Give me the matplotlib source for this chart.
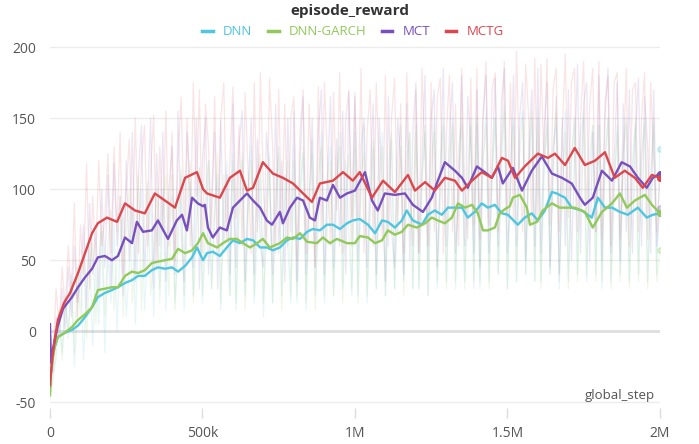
import numpy as np
import matplotlib
matplotlib.use("Agg")
import matplotlib.pyplot as plt

plt.rcParams['font.family'] = ['Open Sans', 'DejaVu Sans']

names = ["DNN", "DNN-GARCH", "MCT", "MCTG"]
colors = ["#4ec6df", "#91c95a", "#7750bd", "#dc464d"]

# ---- smoothed series (x in thousands of steps) ----
dnn_x = [0,3,10,20,26,49,72,92,115,138,157,180,203,223,246,269,289,311,334,354,377,400,420,443,466,482,502,515,534,557,580,600,623,646,666,689,711,731,754,777,797,820,843,862,885,908,928,951,974,993,1016,1043,1066,1089,1108,1131,1154,1170,1190,1220,1239,1262,1285,1305,1328,1351,1370,1393,1416,1436,1459,1482,1502,1534,1557,1580,1600,1623,1646,1662,1689,1711,1744,1777,1797,1820,1843,1869,1895,1928,1957,1977,2000]
dnn_y = [-40,-30,-15,-8,-4,-1,1,4,10,17,24,27,29,31,34,36,39,39,43,45,44,45,42,46,52,59,50,55,56,53,59,64,62,65,64,59,59,57,59,64,66,65,70,72,71,75,75,72,76,78,79,75,69,78,77,73,78,85,78,75,82,85,82,87,87,87,80,84,90,87,89,83,82,75,80,83,78,85,98,97,94,87,85,80,94,87,87,84,82,87,80,82,83]

garch_x = [0,3,10,16,26,49,72,92,115,138,157,180,203,223,246,269,289,311,334,354,377,400,420,443,466,485,502,518,548,567,590,613,633,656,679,698,721,754,777,797,820,843,875,895,918,941,974,1000,1016,1043,1066,1089,1108,1131,1154,1174,1203,1230,1252,1272,1295,1318,1338,1361,1384,1403,1420,1436,1459,1475,1492,1508,1518,1541,1564,1574,1597,1616,1646,1672,1698,1721,1754,1780,1810,1843,1869,1892,1918,1951,1974,2000]
garch_y = [-45,-30,-18,-10,-4,-1,3,8,12,17,29,30,31,31,39,42,41,43,48,49,50,51,58,55,57,62,69,62,59,62,65,65,62,59,62,65,59,62,66,65,69,63,62,66,62,65,62,62,67,66,62,64,71,68,70,75,73,76,80,78,76,80,90,87,89,83,71,71,73,83,86,88,94,96,87,75,77,85,90,87,87,87,84,73,84,90,97,87,92,96,89,83]

mct_x = [0,3,10,20,26,43,72,92,115,138,157,180,203,223,246,269,285,305,334,354,387,416,433,449,466,485,502,508,518,534,557,580,600,623,646,666,689,711,728,754,764,787,810,830,852,869,885,908,928,951,974,1000,1033,1056,1075,1098,1131,1164,1190,1223,1252,1272,1295,1328,1351,1370,1400,1426,1449,1469,1485,1518,1548,1580,1613,1646,1679,1711,1738,1754,1780,1810,1843,1875,1902,1928,1957,1977,2000]
mct_y = [5,-22,-12,-2,4,16,24,31,38,44,52,53,50,53,66,62,77,70,71,78,65,78,82,71,94,90,88,89,73,66,73,71,87,92,97,92,87,78,75,84,76,87,94,92,80,78,94,92,103,94,97,99,112,92,85,97,96,97,89,84,94,106,119,113,108,101,116,112,108,116,104,115,99,113,123,111,108,104,94,89,94,113,106,119,116,108,101,108,111]

mctg_x = [0,7,16,26,46,66,92,115,138,157,187,220,246,279,311,344,377,410,443,482,502,515,557,590,623,646,666,698,731,764,797,830,859,885,928,961,993,1016,1056,1092,1131,1174,1197,1230,1262,1295,1328,1351,1384,1416,1449,1482,1502,1525,1557,1600,1633,1656,1689,1721,1754,1787,1820,1852,1885,1918,1944,1974,2000]
mctg_y = [-38,-20,-5,8,20,27,41,55,69,76,80,77,90,85,83,97,92,87,108,112,100,97,94,108,113,99,101,119,111,108,104,97,91,104,106,112,106,112,94,106,98,110,99,105,99,108,106,99,106,112,108,122,120,108,116,125,122,125,117,129,117,120,126,108,113,108,101,110,108]

# ---- raw (unsmoothed) series, one value every 10k steps ----
raw_step_k = 10
dnn_raw = [-45,-30,-20,10,-15,25,-5,40,-25,15,50,-20,30,60,-10,45,5,70,-15,55,
           20,75,0,60,85,10,45,90,5,70,100,15,55,95,10,80,30,100,15,85,
           95,20,60,110,15,75,105,25,90,115,20,65,120,30,85,110,15,95,120,25,
           125,15,80,120,25,100,130,20,70,115,10,95,125,20,85,130,25,110,60,20,
           130,20,90,125,15,100,135,25,75,140,20,110,130,25,95,140,30,120,70,25,
           140,25,100,145,20,85,130,30,110,140,25,90,135,30,120,145,35,100,140,30,
           145,30,110,140,25,95,150,30,120,145,35,100,150,30,130,145,35,90,150,30,
           145,30,120,155,35,110,150,40,100,160,30,125,150,35,140,155,40,115,150,35,
           155,35,110,150,40,130,145,30,100,155,35,120,150,40,140,150,35,110,145,40,
           145,30,120,150,35,100,145,40,130,150,35,115,145,40,125,150,35,110,145,40,
           128]
garch_raw = [-48,-35,-10,15,-20,20,0,35,-15,45,10,55,-5,40,65,5,50,75,10,60,
             85,15,50,95,10,70,100,20,60,110,15,80,105,25,55,100,20,90,110,25,
             110,15,80,115,25,95,120,20,70,115,25,100,120,30,85,125,20,110,60,25,
             120,20,95,125,15,80,120,25,110,125,20,70,115,20,100,125,15,90,120,25,
             120,25,100,130,20,85,125,15,110,130,25,75,120,25,105,130,20,95,125,30,
             130,20,110,125,25,90,135,30,100,130,25,115,140,30,85,130,25,120,140,30,
             140,30,100,145,25,120,140,35,90,150,30,125,145,35,105,150,30,115,145,35,
             150,35,120,145,30,110,150,40,130,155,30,100,145,35,125,150,40,115,155,35,
             150,30,115,145,40,130,155,35,100,140,30,120,150,35,110,155,40,125,145,35,
             145,35,120,150,30,100,140,35,125,145,30,110,150,35,120,145,30,105,150,35,
             57]
mct_raw = [5,-28,10,-5,30,0,45,10,60,20,35,75,15,90,40,70,25,100,45,110,
           30,118,60,95,25,120,50,140,35,110,145,40,90,150,30,125,60,140,35,100,
           130,40,155,70,35,140,100,45,150,30,120,150,40,95,140,30,148,60,110,40,
           160,45,130,155,35,100,150,40,135,60,45,140,110,40,160,55,120,35,150,70,
           155,35,120,165,40,90,150,45,140,170,40,110,165,45,135,60,155,40,168,80,
           168,50,130,150,45,110,160,40,150,95,35,165,70,45,150,120,40,160,50,140,
           175,55,120,180,50,150,170,45,110,185,60,140,175,55,100,180,60,165,130,55,
           170,45,150,180,55,120,178,60,160,185,55,100,180,60,150,175,50,130,170,60,
           185,55,140,175,45,110,165,40,150,60,170,50,120,188,55,160,175,50,140,70,
           180,50,150,185,55,120,175,50,160,70,170,55,140,178,60,165,130,55,170,60,
           87]
mctg_raw = [-40,-20,30,5,45,15,60,25,90,10,75,40,118,30,95,50,120,60,80,125,
            55,130,70,140,40,100,135,65,150,55,120,145,60,110,152,45,130,70,155,60,
            140,50,120,165,75,150,60,175,95,170,55,160,130,70,165,60,150,175,65,120,
            172,80,145,60,168,110,55,175,70,182,100,60,178,130,55,170,75,160,60,150,
            165,50,140,170,55,160,100,45,172,65,175,120,60,168,85,182,55,150,170,60,
            165,80,185,55,140,170,60,175,110,65,180,60,150,178,70,160,55,182,100,60,
            170,55,185,120,60,175,70,165,178,55,140,180,70,160,60,185,100,65,178,75,
            185,65,150,190,75,170,182,70,130,190,80,175,75,197,110,70,188,150,75,192,
            80,188,120,192,75,170,185,70,140,195,80,175,185,70,150,190,80,160,185,70,
            190,65,160,180,60,175,182,65,120,185,60,170,175,70,150,182,65,175,120,70,
            108]

smooth = [(dnn_x, dnn_y), (garch_x, garch_y), (mct_x, mct_y), (mctg_x, mctg_y)]
raws = [dnn_raw, garch_raw, mct_raw, mctg_raw]

xticks = [0, 500000, 1000000, 1500000, 2000000]
xticklabels = ["0", "500k", "1M", "1.5M", "2M"]
yticks = [-50, 0, 50, 100, 150, 200]

fig = plt.figure(figsize=(6.99, 4.44), dpi=100)
ax = fig.add_axes([0.0715, 0.081, 0.8725, 0.829])

# raw faint lines
for raw, c in zip(raws, colors):
    rx = np.arange(len(raw)) * raw_step_k * 1000
    ax.plot(rx, raw, color=c, lw=0.9, alpha=0.14, zorder=2)
    ax.plot(rx[-1], raw[-1], 'o', color=c, ms=4, alpha=0.25, zorder=2)

# smoothed lines
for (sx, sy), c, n in zip(smooth, colors, names):
    sx = np.asarray(sx) * 1000
    ax.plot(sx, sy, color=c, lw=1.7, zorder=4, label=n)
    ax.plot(sx[-1], sy[-1], 'o', color=c, ms=4, zorder=5)

ax.set_xlim(0, 2000000)
ax.set_ylim(-54, 205)
for s in ax.spines.values():
    s.set_visible(False)
for yv in yticks:
    if yv == 0:
        ax.axhline(yv, color="#dedede", lw=2.0, zorder=1)
    else:
        ax.axhline(yv, color="#ececec", lw=1.0, zorder=1)
ax.set_yticks(yticks)
ax.set_yticklabels([str(v) for v in yticks])
ax.set_xticks(xticks)
ax.set_xticklabels(xticklabels)
ax.tick_params(axis='y', length=0, pad=10, labelsize=10, labelcolor="#555555")
ax.tick_params(axis='x', length=7, width=1, color="#dddddd", pad=6,
               labelsize=10, labelcolor="#555555")

ax.text(0.992, -50, "global_step", transform=ax.get_yaxis_transform(),
        ha='right', va='bottom', fontsize=9.5, color="#555555", zorder=6)

fig.text(0.5, 0.976, "episode_reward", ha='center', va='center',
         fontsize=11, fontweight='bold', color="#333333")
leg = fig.legend(loc='center', bbox_to_anchor=(0.505, 0.928), ncol=4,
                 frameon=False, handlelength=0.8, handletextpad=0.75,
                 columnspacing=1.2, fontsize=9.5)
for txt, c in zip(leg.get_texts(), colors):
    txt.set_color(c)
for h in leg.get_lines():
    h.set_linewidth(2.5)

fig.savefig("out.png", dpi=100)
